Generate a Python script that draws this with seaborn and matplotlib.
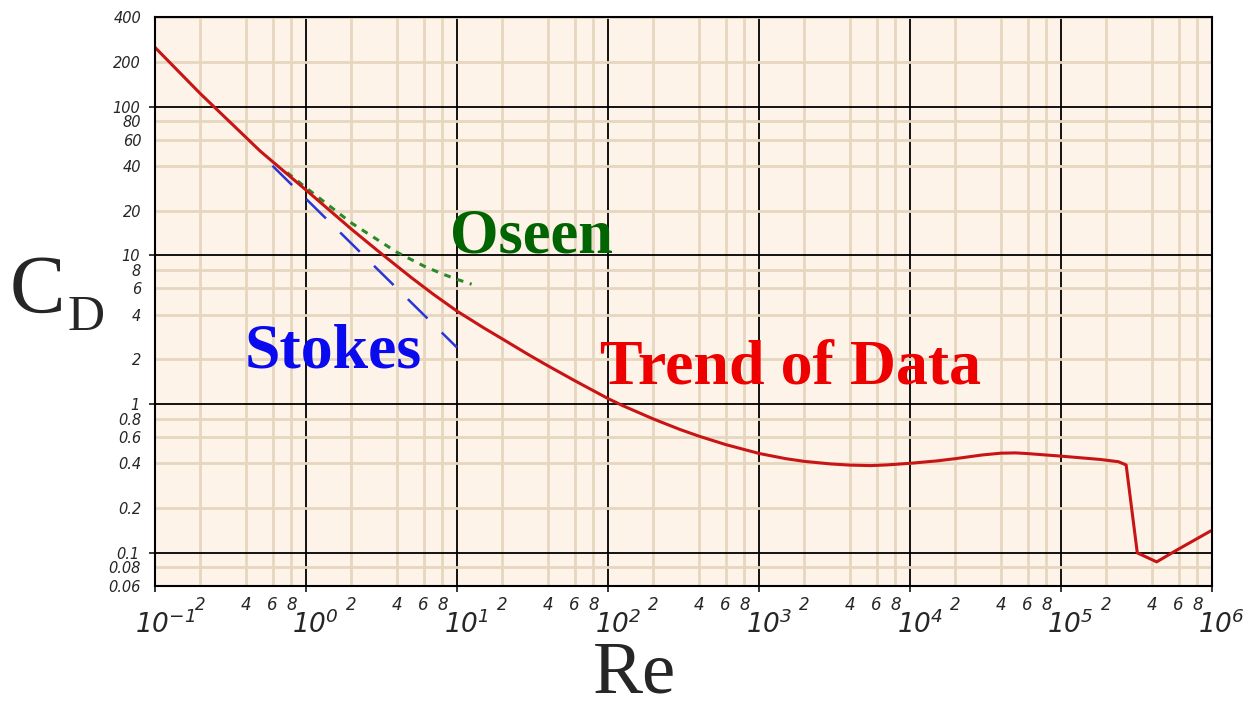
import pandas as pd
import seaborn as sns
import matplotlib.pyplot as plt
from matplotlib.transforms import ScaledTranslation

# values
re_data = [0.1, 0.2, 0.5, 1, 2, 3, 5, 7, 10, 15, 20, 30, 40, 60, 100, 125, 200, 300,
           400, 600, 1000, 1500, 2000, 3000, 4000, 5500, 7000, 1e4, 1.5e4, 2e4, 3e4,
           4e4, 5e4, 6e4, 1e5, 1.8e5, 2.4e5, 2.7e5, 3.2e5, 4.3e5, 6e5, 1e6]
cd_data = [250, 122, 50, 27.5, 15.0, 10.7, 7.07, 5.46, 4.22, 3.26, 2.74, 2.14, 1.81,
           1.44, 1.09, 0.977, 0.794, 0.675, 0.609, 0.535, 0.466, 0.43, 0.412, 0.396,
           0.389, 0.386, 0.39, 0.40, 0.415, 0.43, 0.455, 0.468, 0.47, 0.465, 0.447,
           0.425, 0.41, 0.39, 0.10, 0.087, 0.106, 0.142]

re_stokes = [0.6, 10]
cd_stokes = [40, 2.4]

re_oseen = [0.75, 1, 2, 4, 6, 8, 10, 12.5]
cd_oseen = [36, 28.5, 16.5, 10.5, 8.5, 7.5, 6.9, 6.4]

x_major = [1e-1, 1e0, 1e1, 1e2, 1e3, 1e4, 1e5, 1e6]
x_major_labels = [r'$10^{-1}$', r'$10^{0}$', r'$10^{1}$', r'$10^{2}$',
                  r'$10^{3}$', r'$10^{4}$', r'$10^{5}$', r'$10^{6}$']
x_minor = [m * d for d in x_major[:-1] for m in (2, 4, 6, 8)]
x_minor_labels = ['2', '4', '6', '8'] * 7

y_major = [0.1, 1, 10, 100]
y_major_labels = ['0.1', '1', '10', '100']
y_minor = [0.06, 0.08, 0.2, 0.4, 0.6, 0.8, 2, 4, 6, 8, 20, 40, 60, 80, 200, 400]
y_minor_labels = ['0.06', '0.08', '0.2', '0.4', '0.6', '0.8', '2', '4', '6', '8',
                  '20', '40', '60', '80', '200', '400']

df = pd.DataFrame({'Re': re_data, 'CD': cd_data})
stokes = pd.DataFrame({'Re': re_stokes, 'CD': cd_stokes})
oseen = pd.DataFrame({'Re': re_oseen, 'CD': cd_oseen})

sns.set_style('white')
plt.rcParams['mathtext.fontset'] = 'custom'
plt.rcParams['mathtext.rm'] = 'DejaVu Sans:italic'
plt.rcParams['mathtext.it'] = 'DejaVu Sans:italic'

fig = plt.figure(figsize=(12.45, 7.11), dpi=100)
ax = fig.add_axes([0.1245, 0.176, 0.849, 0.8])
ax.set_facecolor('#fdf3e9')

sns.lineplot(data=stokes, x='Re', y='CD', ax=ax, color='#2a35d8', lw=1.8,
             linestyle=(0, (11, 8)), estimator=None)
sns.lineplot(data=oseen, x='Re', y='CD', ax=ax, color='#2a8a2a', lw=2.2,
             linestyle=(0, (2.2, 2.2)), estimator=None)
sns.lineplot(data=df, x='Re', y='CD', ax=ax, color='#c81414', lw=2.2, estimator=None)

ax.set_xscale('log')
ax.set_yscale('log')
ax.set_xlim(0.1, 1e6)
ax.set_ylim(0.06, 400)

tick_font = dict(family='DejaVu Sans', style='italic')
ax.set_xticks(x_major, x_major_labels, fontsize=19, **tick_font)
ax.set_xticks(x_minor, x_minor_labels, minor=True, fontsize=12, **tick_font)
ax.set_yticks(y_major, y_major_labels, fontsize=10.5, **tick_font)
ax.set_yticks(y_minor, y_minor_labels, minor=True, fontsize=10.5, **tick_font)
ax.tick_params(axis='x', which='major', length=4, width=1.3, pad=14, direction='out',
               bottom=True)
ax.tick_params(axis='x', which='minor', length=0, pad=7, bottom=True)
ax.tick_params(axis='y', which='major', length=4, width=1.3, pad=7, direction='out',
               left=True)
ax.tick_params(axis='y', which='minor', length=0, pad=10, left=True)

# "10" sits centred on the tick, exponent hangs to the right
shift = ScaledTranslation(7 / 72, 0, fig.dpi_scale_trans)
for lab in ax.get_xticklabels():
    lab.set_transform(lab.get_transform() + shift)

ax.grid(True, which='minor', color='#e6d6bf', lw=2)
ax.grid(True, which='major', color='black', lw=1.3)
ax.set_axisbelow(True)
for s in ax.spines.values():
    s.set_color('black')
    s.set_linewidth(1.5)

ax.set_xlabel('')
ax.set_ylabel('')
serif = 'Liberation Serif'
fig.text(0.51, 0.026, 'Re', family=serif, fontsize=54, ha='center', va='baseline')
fig.text(0.008, 0.561, 'C', family=serif, fontsize=60, va='baseline')
fig.text(0.054, 0.536, 'D', family=serif, fontsize=37, va='baseline')

ax.text(9, 10.4, 'Oseen', color='#006400', family=serif,
        fontweight='bold', fontsize=45, va='baseline')
ax.text(0.395, 1.75, 'Stokes', color='#0a0aee', family=serif,
        fontweight='bold', fontsize=46, va='baseline')
ax.text(88, 1.38, 'Trend of Data', color='#ee0000', family=serif,
        fontweight='bold', fontsize=46, va='baseline')

fig.savefig('out.png', dpi=100)
